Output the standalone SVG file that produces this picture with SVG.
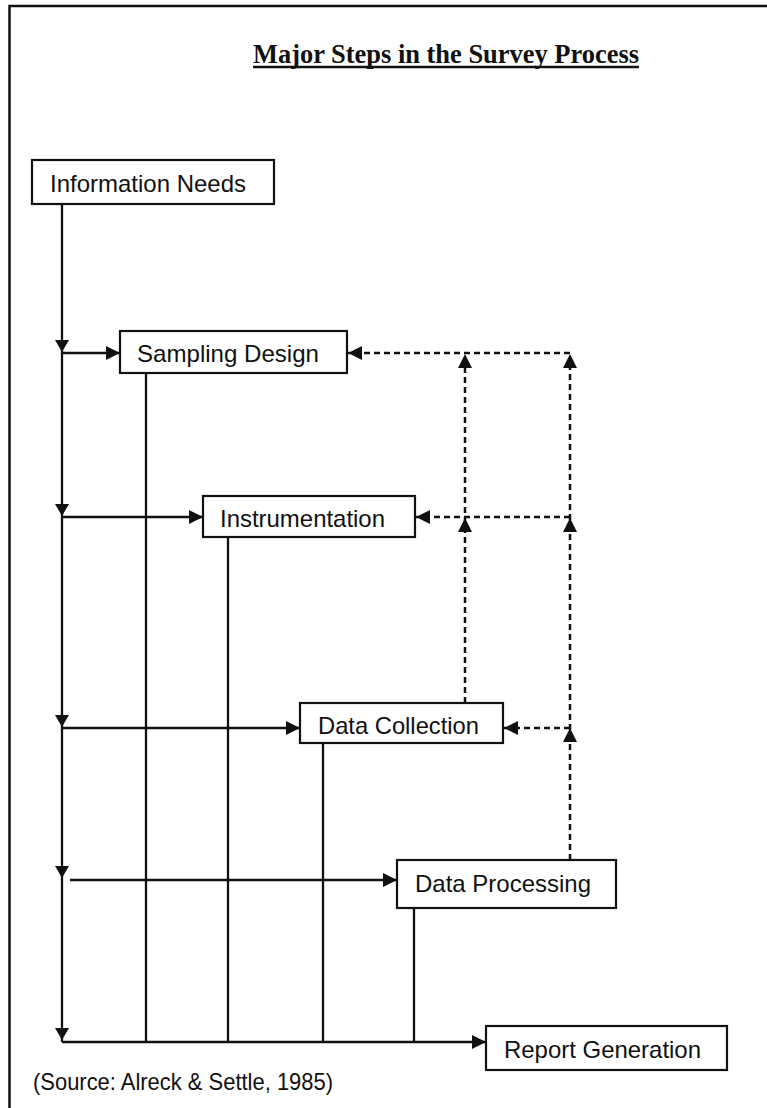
<svg xmlns="http://www.w3.org/2000/svg" width="767" height="1108" viewBox="0 0 767 1108">
<style>
.box{fill:#fff;stroke:#111;stroke-width:2.2}
.lbl{font-family:"Liberation Sans",Arial,sans-serif;font-size:24px;fill:#111}
.ln{fill:none;stroke:#111;stroke-width:2.3}
.dash{fill:none;stroke:#111;stroke-width:2.5;stroke-dasharray:6 4}
.head{fill:#111;stroke:none}
</style>
<defs>
<marker id="arr" viewBox="0 0 14 14" refX="14" refY="7" markerWidth="14" markerHeight="14" markerUnits="userSpaceOnUse" orient="auto">
<path d="M0,0 L14,7 L0,14 Z" class="head"/>
</marker>
<path id="down" d="M-7,-12 L7,-12 L0,0 Z" class="head"/>
<path id="up" d="M-7,14 L7,14 L0,0 Z" class="head"/>
</defs>
<rect x="0" y="0" width="767" height="1108" fill="#fff"/>
<rect x="9.5" y="6" width="800" height="1200" fill="none" stroke="#111" stroke-width="2.5"/>
<g id="title">
<text x="253" y="63" font-family="'Liberation Serif','Times New Roman',serif" font-weight="bold" font-size="26.5" fill="#111" textLength="386" lengthAdjust="spacingAndGlyphs">Major Steps in the Survey Process</text>
<line x1="253" y1="67" x2="639" y2="67" stroke="#111" stroke-width="2.5"/>
</g>
<g id="connectors">
<line class="ln" x1="62" y1="204" x2="62" y2="1042"/>
<use href="#down" x="62" y="352"/>
<use href="#down" x="62" y="516"/>
<use href="#down" x="62" y="727"/>
<use href="#down" x="62" y="878"/>
<use href="#down" x="62" y="1040"/>
<line class="ln" x1="62" y1="353" x2="120" y2="353" marker-end="url(#arr)"/>
<line class="ln" x1="62" y1="517" x2="203" y2="517" marker-end="url(#arr)"/>
<line class="ln" x1="62" y1="728" x2="300" y2="728" marker-end="url(#arr)"/>
<line class="ln" x1="70" y1="880" x2="397" y2="880" marker-end="url(#arr)"/>
<line class="ln" x1="62" y1="1042" x2="486" y2="1042" marker-end="url(#arr)"/>
<line class="ln" x1="146" y1="373" x2="146" y2="1042"/>
<line class="ln" x1="228" y1="537" x2="228" y2="1042"/>
<line class="ln" x1="323" y1="743" x2="323" y2="1042"/>
<line class="ln" x1="414" y1="908" x2="414" y2="1042"/>
<line class="dash" x1="570" y1="353" x2="348" y2="353" marker-end="url(#arr)"/>
<line class="dash" x1="570" y1="517" x2="416" y2="517" marker-end="url(#arr)"/>
<line class="dash" x1="570" y1="728" x2="504" y2="728" marker-end="url(#arr)"/>
<line class="dash" x1="465" y1="703" x2="465" y2="360"/>
<line class="dash" x1="570" y1="860" x2="570" y2="360"/>
<use href="#up" x="465" y="354"/>
<use href="#up" x="465" y="518"/>
<use href="#up" x="570" y="354"/>
<use href="#up" x="570" y="518"/>
<use href="#up" x="570" y="728"/>
</g>
<g id="information-needs">
<rect class="box" x="32" y="160" width="242" height="44"/>
<text class="lbl" x="50" y="192" textLength="196" lengthAdjust="spacingAndGlyphs">Information Needs</text>
</g>
<g id="sampling-design">
<rect class="box" x="120" y="331" width="227" height="42"/>
<text class="lbl" x="137" y="362" textLength="182" lengthAdjust="spacingAndGlyphs">Sampling Design</text>
</g>
<g id="instrumentation">
<rect class="box" x="203" y="496" width="212" height="41"/>
<text class="lbl" x="220" y="527" textLength="165" lengthAdjust="spacingAndGlyphs">Instrumentation</text>
</g>
<g id="data-collection">
<rect class="box" x="300" y="703" width="203" height="40"/>
<text class="lbl" x="318" y="734" textLength="161" lengthAdjust="spacingAndGlyphs">Data Collection</text>
</g>
<g id="data-processing">
<rect class="box" x="397" y="860" width="219" height="48"/>
<text class="lbl" x="415" y="892" textLength="176" lengthAdjust="spacingAndGlyphs">Data Processing</text>
</g>
<g id="report-generation">
<rect class="box" x="486" y="1026" width="241" height="44"/>
<text class="lbl" x="504" y="1058" textLength="197" lengthAdjust="spacingAndGlyphs">Report Generation</text>
</g>
<text class="lbl" x="33" y="1090" font-size="22" textLength="300" lengthAdjust="spacingAndGlyphs">(Source: Alreck &amp; Settle, 1985)</text>
</svg>
